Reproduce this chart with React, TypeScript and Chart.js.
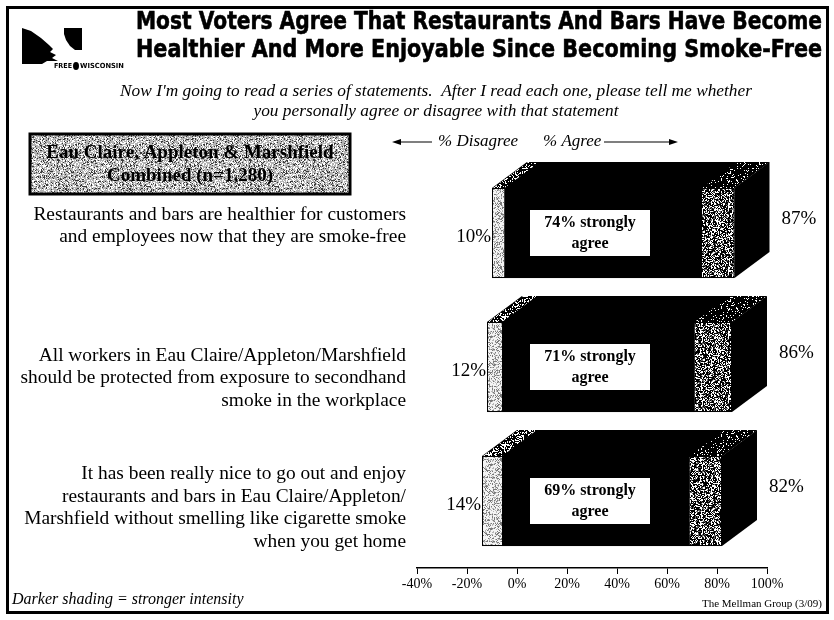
import { useEffect, useRef } from "react";
import { Chart, registerables } from "chart.js";

Chart.register(...registerables);

// Survey statements (category axis)
const statements: string[][] = [
  ["Restaurants and bars are healthier for customers", "and employees now that they are smoke-free"],
  ["All workers in Eau Claire/Appleton/Marshfield", "should be protected from exposure to secondhand", "smoke in the workplace"],
  ["It has been really nice to go out and enjoy", "restaurants and bars in Eau Claire/Appleton/", "Marshfield without smelling like cigarette smoke", "when you get home"],
];

// Percentages
const totalDisagree = [10, 12, 14];
const stronglyDisagree = [5, 6, 6];
const stronglyAgree = [74, 71, 69];
const totalAgree = [87, 86, 82];

// Axis ticks (%)
const xTicks = [-40, -20, 0, 20, 40, 60, 80, 100];

const SERIF = '"Liberation Serif", "Times New Roman", serif';
const SANS = '"DejaVu Sans", Verdana, sans-serif';

// vertical nudge of each statement block relative to its bar
const statementShift = [-7, 11, 7];

// Deterministic grain for the stippled fills
function grain(n: number): number {
  const s = Math.sin(n * 12.9898 + 78.233) * 43758.5453;
  return s - Math.floor(s);
}

function stippleTile(size: number, bg: string, dots: [string, number][], seed: number) {
  const c = document.createElement("canvas");
  c.width = size;
  c.height = size;
  const g = c.getContext("2d")!;
  g.fillStyle = bg;
  g.fillRect(0, 0, size, size);
  for (let y = 0; y < size; y++) {
    for (let x = 0; x < size; x++) {
      const r = grain(x * 131 + y * 977 + seed);
      let acc = 0;
      for (const [col, d] of dots) {
        acc += d;
        if (r < acc) {
          g.fillStyle = col;
          g.fillRect(x, y, 1, 1);
          break;
        }
      }
    }
  }
  return c;
}

function fitSize(ctx: CanvasRenderingContext2D, text: string, width: number, style: string, family: string) {
  ctx.font = `${style} 20px ${family}`;
  const w = ctx.measureText(text).width;
  return (20 * width) / w;
}

export default function App() {
  const canvasRef = useRef<HTMLCanvasElement | null>(null);

  useEffect(() => {
    const canvas = canvasRef.current!;
    const ctx0 = canvas.getContext("2d")!;
    const lightFront = ctx0.createPattern(
      stippleTile(64, "#f4f4f4", [["#7a7a7a", 0.22], ["#b8b8b8", 0.2]], 11),
      "repeat"
    )!;
    const grayFront = ctx0.createPattern(
      stippleTile(64, "#ffffff", [["#000000", 0.5], ["#666666", 0.15]], 23),
      "repeat"
    )!;
    const lightTop = ctx0.createPattern(stippleTile(64, "#ffffff", [["#000000", 0.6]], 37), "repeat")!;
    const grayTop = ctx0.createPattern(stippleTile(64, "#000000", [["#ffffff", 0.12]], 41), "repeat")!;
    const boxFill = ctx0.createPattern(
      stippleTile(64, "#b4b4b4", [["#ffffff", 0.28], ["#3a3a3a", 0.18]], 53),
      "repeat"
    )!;

    const DX = 35;
    const DY = 26;

    const decor = {
      id: "decor",
      beforeDraw(chart: Chart) {
        const ctx = chart.ctx;
        ctx.save();
        ctx.fillStyle = "#fff";
        ctx.fillRect(0, 0, chart.width, chart.height);

        // frame
        ctx.strokeStyle = "#000";
        ctx.lineWidth = 3;
        ctx.strokeRect(7.5, 7.5, 820, 605);

        // logo
        ctx.fillStyle = "#000";
        ctx.beginPath();
        ctx.moveTo(22, 28);
        ctx.lineTo(31, 31);
        ctx.lineTo(41, 38);
        ctx.lineTo(49, 45);
        ctx.lineTo(53, 49);
        ctx.lineTo(50, 52);
        ctx.lineTo(56, 55);
        ctx.lineTo(52, 58);
        ctx.lineTo(58, 61);
        ctx.lineTo(47, 61);
        ctx.lineTo(42, 64);
        ctx.lineTo(22, 64);
        ctx.closePath();
        ctx.fill();
        ctx.beginPath();
        ctx.moveTo(64, 28);
        ctx.lineTo(82, 28);
        ctx.lineTo(82, 50);
        ctx.lineTo(75, 50);
        ctx.lineTo(70, 46);
        ctx.lineTo(66, 40);
        ctx.lineTo(64, 34);
        ctx.closePath();
        ctx.fill();
        ctx.font = `bold 7px ${SANS}`;
        ctx.textBaseline = "middle";
        ctx.textAlign = "left";
        ctx.fillText("FREE", 54, 66, 18);
        ctx.beginPath();
        ctx.ellipse(76, 66, 3, 4, 0, 0, Math.PI * 2);
        ctx.fill();
        ctx.fillText("WISCONSIN", 80, 66, 44);

        // title
        ctx.font = `bold 24px ${SANS}`;
        ctx.textAlign = "left";
        ctx.strokeStyle = "#000";
        ctx.lineWidth = 0.6;
        const t1 = "Most Voters Agree That Restaurants And Bars Have Become";
        const t2 = "Healthier And More Enjoyable Since Becoming Smoke-Free";
        ctx.fillText(t1, 136, 23, 686);
        ctx.strokeText(t1, 136, 23, 686);
        ctx.fillText(t2, 136, 51, 686);
        ctx.strokeText(t2, 136, 51, 686);

        // subtitle
        const sub1 = "Now I'm going to read a series of statements.  After I read each one, please tell me whether";
        const sub2 = "you personally agree or disagree with that statement";
        const subSize = fitSize(ctx, sub1, 632, "italic", SERIF);
        ctx.font = `italic ${subSize}px ${SERIF}`;
        ctx.textAlign = "center";
        ctx.fillText(sub1, 436, 91);
        ctx.fillText(sub2, 436, 111);

        // sample box
        ctx.fillStyle = boxFill;
        ctx.fillRect(30, 134, 320, 60);
        ctx.lineWidth = 3;
        ctx.strokeRect(30, 134, 320, 60);
        ctx.fillStyle = "#000";
        ctx.font = `bold 19px ${SERIF}`;
        ctx.fillText("Eau Claire, Appleton & Marshfield", 190, 153);
        ctx.fillText("Combined (n=1,280)", 190, 176);

        // direction row
        ctx.font = `italic 17px ${SERIF}`;
        ctx.textAlign = "left";
        ctx.fillText("% Disagree", 438, 142);
        ctx.fillText("% Agree", 543, 142);
        ctx.lineWidth = 1.2;
        ctx.beginPath();
        ctx.moveTo(395, 142);
        ctx.lineTo(432, 142);
        ctx.moveTo(604, 142);
        ctx.lineTo(675, 142);
        ctx.stroke();
        ctx.beginPath();
        ctx.moveTo(392, 142);
        ctx.lineTo(401, 139);
        ctx.lineTo(401, 145);
        ctx.closePath();
        ctx.moveTo(678, 142);
        ctx.lineTo(669, 139);
        ctx.lineTo(669, 145);
        ctx.closePath();
        ctx.fill();
        ctx.restore();
      },
      afterDatasetsDraw(chart: Chart) {
        const ctx = chart.ctx;
        const xs = chart.scales.x;
        const meta = chart.getDatasetMeta(0);
        ctx.save();
        statements.forEach((lines, i) => {
          const bar = meta.data[i] as any;
          const cy: number = bar.y;
          const h: number = bar.height;
          const yT = cy - h / 2;
          const yB = cy + h / 2;
          const xL = xs.getPixelForValue(-totalDisagree[i]);
          const xLs = xs.getPixelForValue(-stronglyDisagree[i]);
          const xAs = xs.getPixelForValue(stronglyAgree[i]);
          const xR = xs.getPixelForValue(totalAgree[i]);

          // close the seam where the two dark segments meet at 0%
          ctx.fillStyle = "#000";
          ctx.fillRect(xLs, yT, xAs - xLs, h);

          const face = (a: number, b: number, fill: string | CanvasPattern) => {
            ctx.fillStyle = fill;
            ctx.beginPath();
            ctx.moveTo(a, yT);
            ctx.lineTo(b, yT);
            ctx.lineTo(b + DX, yT - DY);
            ctx.lineTo(a + DX, yT - DY);
            ctx.closePath();
            ctx.fill();
          };
          // top face
          face(xL, xR, "#000");
          face(xL + 1, xLs, lightTop);
          face(xAs, xR, grayTop);
          // right face
          ctx.fillStyle = "#000";
          ctx.beginPath();
          ctx.moveTo(xR, yT);
          ctx.lineTo(xR + DX, yT - DY);
          ctx.lineTo(xR + DX, yB - DY);
          ctx.lineTo(xR, yB);
          ctx.closePath();
          ctx.fill();
          // front outline
          ctx.strokeStyle = "#000";
          ctx.lineWidth = 1;
          ctx.strokeRect(xL + 0.5, yT + 0.5, xR - xL - 1, h - 1);

          // value labels
          ctx.fillStyle = "#000";
          ctx.font = `19px ${SERIF}`;
          ctx.textBaseline = "middle";
          ctx.textAlign = "right";
          ctx.fillText(`${totalDisagree[i]}%`, xL - 1, cy + 4);
          ctx.textAlign = "left";
          ctx.fillText(`${totalAgree[i]}%`, xR + DX + 12, cy - 14);

          // strongly agree callout
          const x0 = xs.getPixelForValue(0);
          ctx.fillStyle = "#fff";
          ctx.fillRect(x0 + 13, cy - 23, 120, 46);
          ctx.fillStyle = "#000";
          ctx.font = `bold 16px ${SERIF}`;
          ctx.textAlign = "center";
          ctx.fillText(`${stronglyAgree[i]}% strongly`, x0 + 73, cy - 10);
          ctx.fillText("agree", x0 + 73, cy + 11);

          // statement text, right-aligned against the plot
          ctx.font = `19.4px ${SERIF}`;
          ctx.textAlign = "right";
          const lh = 22.5;
          const top = cy + statementShift[i] - ((lines.length - 1) * lh) / 2;
          lines.forEach((ln, k) => ctx.fillText(ln, 406, top + k * lh));
        });
        ctx.restore();
      },
      afterDraw(chart: Chart) {
        const ctx = chart.ctx;
        ctx.save();
        ctx.fillStyle = "#000";
        ctx.textBaseline = "middle";
        ctx.textAlign = "left";
        ctx.font = `italic 16px ${SERIF}`;
        ctx.fillText("Darker shading = stronger intensity", 12, 600);
        ctx.textAlign = "right";
        ctx.font = `11px ${SERIF}`;
        ctx.fillText("The Mellman Group (3/09)", 822, 604);
        ctx.restore();
      },
    };

    const chart = new Chart(canvas, {
      type: "bar",
      data: {
        labels: statements,
        datasets: [
          { label: "Strongly disagree", data: stronglyDisagree.map((v) => -v), backgroundColor: "#000" },
          {
            label: "Somewhat disagree",
            data: totalDisagree.map((t, i) => -(t - stronglyDisagree[i])),
            backgroundColor: lightFront,
          },
          { label: "Strongly agree", data: stronglyAgree, backgroundColor: "#000" },
          {
            label: "Somewhat agree",
            data: totalAgree.map((t, i) => t - stronglyAgree[i]),
            backgroundColor: grayFront,
          },
        ],
      },
      options: {
        indexAxis: "y",
        animation: false,
        responsive: false,
        devicePixelRatio: 1,
        layout: { padding: { top: 166, right: 67, bottom: 0, left: 0 } },
        datasets: { bar: { categoryPercentage: 1, barPercentage: 0.672, borderWidth: 0 } },
        plugins: { legend: { display: false }, tooltip: { enabled: false }, title: { display: false } },
        scales: {
          x: {
            type: "linear",
            stacked: true,
            min: -40,
            max: 100,
            afterBuildTicks: (s: any) => {
              s.ticks = xTicks.map((v) => ({ value: v }));
            },
            afterFit: (s: any) => {
              s.height = 52;
            },
            grid: { drawOnChartArea: false, drawTicks: true, tickLength: 6, color: "#000", lineWidth: 1 },
            border: { display: true, color: "#000", width: 1.5 },
            ticks: {
              color: "#000",
              font: { family: SERIF, size: 14 },
              padding: 2,
              maxRotation: 0,
              autoSkip: false,
              callback: (v: any) => `${v}%`,
            },
          },
          y: {
            stacked: true,
            afterFit: (s: any) => {
              s.width = 417;
            },
            grid: { display: false },
            border: { display: false },
            ticks: { display: false },
          },
        },
      },
      plugins: [decor],
    });
    return () => chart.destroy();
  }, []);

  return (
    <div style={{ position: "absolute", left: 0, top: 0, width: 834, height: 620 }}>
      <canvas ref={canvasRef} width={834} height={620} />
    </div>
  );
}
